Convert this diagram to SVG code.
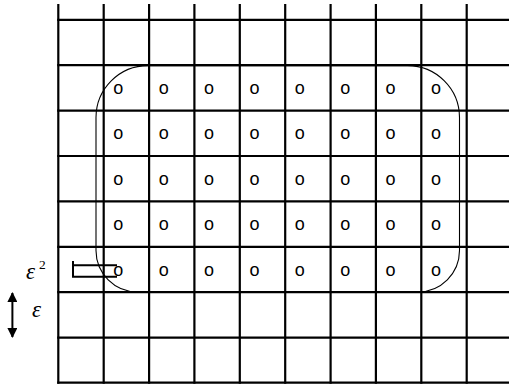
<svg xmlns="http://www.w3.org/2000/svg" width="509" height="385" viewBox="0 0 509 385">
<style>
.g line{stroke:#000;stroke-width:2.2}
.o{font-family:"Liberation Sans Narrow","Liberation Sans",Arial,sans-serif;font-size:18px;text-anchor:middle;fill:#000}
.lab{font-family:"Liberation Serif","Times New Roman",serif;font-style:italic;fill:#000}
.thin{fill:none;stroke:#000;stroke-width:1.1}
</style>
<defs>
<marker id="ah" viewBox="0 0 10 10" refX="9" refY="5" markerWidth="5" markerHeight="5" orient="auto-start-reverse" markerUnits="strokeWidth">
<path d="M0,0 L10,5 L0,10 Z" fill="#000"/>
</marker>
</defs>
<rect width="509" height="385" fill="#fff"/>
<g id="grid" class="g">
<line x1="58.3" y1="4" x2="58.3" y2="383.8"/>
<line x1="103.7" y1="4" x2="103.7" y2="383.8"/>
<line x1="149.1" y1="4" x2="149.1" y2="383.8"/>
<line x1="194.4" y1="4" x2="194.4" y2="383.8"/>
<line x1="239.8" y1="4" x2="239.8" y2="383.8"/>
<line x1="285.2" y1="4" x2="285.2" y2="383.8"/>
<line x1="330.6" y1="4" x2="330.6" y2="383.8"/>
<line x1="375.9" y1="4" x2="375.9" y2="383.8"/>
<line x1="421.3" y1="4" x2="421.3" y2="383.8"/>
<line x1="466.7" y1="4" x2="466.7" y2="383.8"/>
<line x1="57.2" y1="19.8" x2="509" y2="19.8"/>
<line x1="57.2" y1="65.2" x2="509" y2="65.2"/>
<line x1="57.2" y1="110.6" x2="509" y2="110.6"/>
<line x1="57.2" y1="156" x2="509" y2="156"/>
<line x1="57.2" y1="201.4" x2="509" y2="201.4"/>
<line x1="57.2" y1="246.8" x2="509" y2="246.8"/>
<line x1="57.2" y1="292.2" x2="509" y2="292.2"/>
<line x1="57.2" y1="337.6" x2="509" y2="337.6"/>
<line x1="57.2" y1="382.7" x2="509" y2="382.7"/>
</g>
<g id="region">
<path class="thin" d="M148,65.6 H407 A52,52 0 0 1 459.5,117.6 V250.6 A41.5,41.5 0 0 1 418,292 H137.5 A41.5,41.5 0 0 1 96,250.6 V117.6 A52,52 0 0 1 148,65.6 Z"/>
</g>
<g id="points" class="o">
<text x="118.3" y="94">o</text><text x="163.7" y="94">o</text><text x="209" y="94">o</text><text x="254.4" y="94">o</text><text x="299.8" y="94">o</text><text x="345.2" y="94">o</text><text x="390.6" y="94">o</text><text x="435.9" y="94">o</text>
<text x="118.3" y="139.4">o</text><text x="163.7" y="139.4">o</text><text x="209" y="139.4">o</text><text x="254.4" y="139.4">o</text><text x="299.8" y="139.4">o</text><text x="345.2" y="139.4">o</text><text x="390.6" y="139.4">o</text><text x="435.9" y="139.4">o</text>
<text x="118.3" y="184.8">o</text><text x="163.7" y="184.8">o</text><text x="209" y="184.8">o</text><text x="254.4" y="184.8">o</text><text x="299.8" y="184.8">o</text><text x="345.2" y="184.8">o</text><text x="390.6" y="184.8">o</text><text x="435.9" y="184.8">o</text>
<text x="118.3" y="230.2">o</text><text x="163.7" y="230.2">o</text><text x="209" y="230.2">o</text><text x="254.4" y="230.2">o</text><text x="299.8" y="230.2">o</text><text x="345.2" y="230.2">o</text><text x="390.6" y="230.2">o</text><text x="435.9" y="230.2">o</text>
<text x="118.3" y="275.6">o</text><text x="163.7" y="275.6">o</text><text x="209" y="275.6">o</text><text x="254.4" y="275.6">o</text><text x="299.8" y="275.6">o</text><text x="345.2" y="275.6">o</text><text x="390.6" y="275.6">o</text><text x="435.9" y="275.6">o</text>
</g>
<g id="probe">
<path d="M73,261 V276.8 H117 M73,265.2 H117" fill="none" stroke="#000" stroke-width="2"/>
</g>
<g id="labels">
<text class="lab" x="26" y="278.5" font-size="23">ε</text>
<text font-family="'Liberation Serif','Times New Roman',serif" x="39" y="268.5" font-size="13.5" fill="#000">2</text>
<text class="lab" x="32" y="316.8" font-size="23">ε</text>
</g>
<g id="connectors">
<line x1="12.4" y1="293" x2="12.4" y2="337" stroke="#000" stroke-width="2" marker-start="url(#ah)" marker-end="url(#ah)"/>
</g>
</svg>
